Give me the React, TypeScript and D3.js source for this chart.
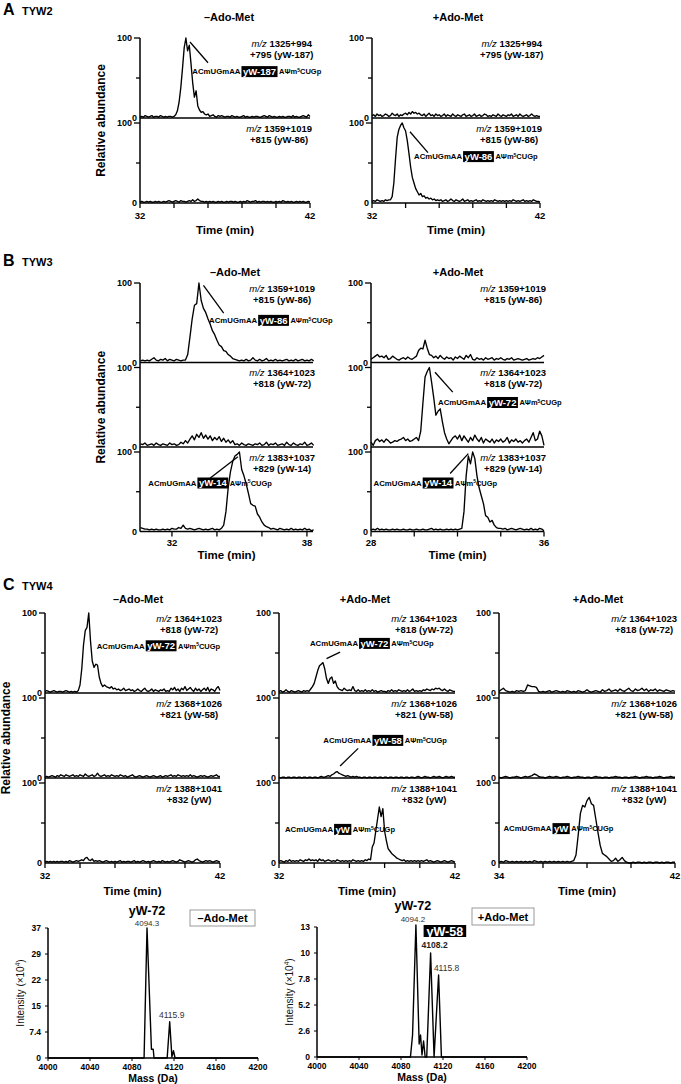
import React, { useEffect, useRef } from "react";
import * as d3 from "d3";

// ================= DATA =================
const STEP = 0.1; // min between samples of every chromatogram

// ---- Panel A (TYW2), 32–42 min ----
const tyw2MinusUpper = [1,2,1,3,2,1,2,3,1,2,2,1,3,2,1,2,1,2,2,1,
  2,4,9,20,38,62,88,100,84,91,68,44,26,34,15,10,7,8,5,4,5,
  2,3,4,2,1,3,2,3,2,1,2,2,1,3,2,1,2,1,1,2,3,1,2,1,1,2,1,2,2,1,1,2,3,2,1,3,2,1,2,1,1,2,1,2,1,1,2,2,1,3,1,2,1,1,2,3,2,1,4,2];
const tyw2MinusLower = [1,2,1,1,2,1,2,1,1,2,1,2,1,1,2,1,2,3,2,1,
  2,3,2,1,3,2,2,1,2,3,2,4,2,3,5,3,2,2,1,2,
  1,2,1,2,1,1,2,1,2,1,1,2,1,2,2,1,2,1,1,2,
  1,2,1,3,2,1,2,2,3,1,2,1,2,2,1,2,1,2,1,1,
  2,1,2,1,3,2,1,2,1,2,1,1,2,1,2,1,2,1,1,2,1];
const tyw2PlusUpper = [3,4,2,5,3,4,2,3,5,4,2,3,6,4,3,5,2,4,3,5,
  6,4,7,5,8,6,7,5,6,4,3,5,2,4,6,3,4,2,5,3,
  4,2,3,5,2,4,3,2,5,3,2,4,3,2,4,5,2,3,4,2,
  3,5,2,3,4,2,3,5,4,2,3,2,4,3,2,5,3,2,4,3,
  2,4,3,5,2,3,4,2,5,3,2,3,4,2,3,5,3,2,3,2,2];
const tyw2PlusLower = [2,3,2,4,3,2,3,2,4,3,
  4,4,8,25,55,82,92,97,100,94,
  90,78,62,45,32,25,18,14,10,12,
  8,9,6,7,5,6,4,5,3,4,
  3,4,2,3,4,2,3,5,3,2,4,3,2,3,5,2,3,4,2,3,
  2,3,4,2,3,2,4,3,2,3,2,3,2,4,3,2,3,2,3,2,
  3,2,3,2,4,3,2,3,2,3,4,2,3,2,3,2,4,3,2,2,1];

// ---- Panel B (TYW3): –Ado-Met from 30.6 min, +Ado-Met 28–36 min ----
const tyw3MinusUpper = [2,3,2,3,2,4,6,3,2,4, 3,5,2,4,3,2,4,3,2,3,
  3,10,32,55,72,74,100,78,68,63, 55,48,40,35,28,22,20,15,14,10,
  8,5,4,3,2,3,2,4,2,3, 6,3,2,4,2,3,5,2,3,2, 4,2,3,2,3,4,2,3,2,4, 2,3,4,2,3,2,4,2];
const tyw3MinusMiddle = [4,3,5,2,3,4,2,5,3,2, 4,3,2,5,3,4,2,3,6,4,
  8,5,10,14,9,16,12,18,11,15, 10,14,8,12,9,13,7,11,6,9,
  5,8,3,4,2,5,3,2,4,3, 2,4,3,5,2,3,6,2,4,3, 5,2,3,4,2,6,3,2,5,3, 2,4,3,6,2,3,5,2];
const tyw3MinusLower = [5,4,3,3,2,3,2,3,2,2, 3,2,3,2,4,3,3,5,4,8,
  4,3,4,3,2,3,4,3,2,3, 2,3,4,2,3,2,4,8,25,55,
  75,88,95,97,100,78,70,60,48,35, 33,32,22,18,12,8,6,5,3,4,
  3,2,4,3,2,3,2,4,2,3, 2,3,2,4,2,3,1,2];
const tyw3PlusUpper = [4,6,8,10,7,8,6,9,4,5, 8,6,4,3,5,6,4,7,5,4,
  6,8,15,18,17,28,18,10,9,6, 8,5,9,6,4,7,5,6,3,7,
  5,8,6,4,9,6,10,4,3,6, 4,5,3,6,4,5,6,3,5,4, 6,4,3,5,4,6,3,4,5,4,
  3,4,5,3,4,5,4,6,5,7,9];
const tyw3PlusMiddle = [6,2,8,10,7,9,6,10,8,5, 6,8,7,9,10,12,8,10,7,8,
  10,12,8,20,55,88,95,100,82,62, 40,45,48,32,18,10,4,8,12,14,
  10,15,8,14,10,6,12,8,15,10, 7,12,5,10,8,6,10,5,9,7, 10,6,8,12,5,9,7,10,6,8,
  5,8,10,6,12,18,8,10,20,14,2];
const tyw3PlusLower = [2,3,2,4,2,3,2,3,2,2, 3,2,3,2,2,3,2,2,3,2,
  2,3,2,2,3,2,2,3,4,2, 3,2,3,2,2,3,2,3,2,3,
  2,3,4,25,70,95,85,100,92,70, 55,45,35,20,18,12,14,8,5,4,
  4,3,4,2,3,4,3,2,3,4, 3,2,3,2,4,2,3,2,4,3,1];

// ---- Panel C (TYW4): 32–42 min (first two columns), 34–42 min (third) ----
const tyw4MinusUpper = [2,3,2,1,2,3,2,1,2,2, 1,2,3,2,1,2,1,2,1,3,
  10,30,60,78,82,100,65,40,32,36, 35,20,12,8,10,8,7,6,8,5,
  6,4,5,3,4,6,3,4,5,3, 4,2,3,5,3,2,4,6,3,2, 3,5,2,4,3,2,4,3,5,2,
  3,2,6,4,7,3,5,2,6,4, 8,3,5,7,4,2,6,3,5,2, 4,6,3,7,2,5,4,2,6,8,3];
const tyw4MinusMiddle = [1,2,1,2,3,2,1,3,2,4, 3,2,4,3,2,3,4,2,3,2,
  4,3,2,5,3,2,3,4,2,3, 6,3,2,3,4,2,3,2,4,3, 2,3,2,4,3,2,3,1,2,3,
  4,2,1,2,3,2,1,2,3,2, 1,2,3,2,1,2,3,1,2,3, 2,3,4,2,3,2,4,3,2,3,
  2,3,2,4,2,3,2,1,2,3, 2,3,2,1,2,3,2,3,4,2,2];
const tyw4MinusLower = [1,2,1,2,1,2,1,2,1,2, 2,1,2,1,3,2,1,2,3,2,
  3,4,3,6,7,4,3,5,2,3, 2,3,2,1,2,3,2,1,2,1, 2,1,2,3,1,2,1,2,2,1,
  2,3,1,2,1,2,3,2,1,2, 1,2,3,2,1,2,1,3,2,1, 2,1,2,3,2,1,2,4,3,2,
  1,2,3,2,1,2,4,5,3,2, 1,2,3,2,3,2,1,2,3,2,1];
const tyw4PlusUpper = [2,3,1,2,4,2,1,3,2,1, 2,3,2,1,3,2,3,2,5,8,
  12,20,28,34,36,38,30,18,12,18, 20,12,15,8,5,4,3,6,4,3,
  4,3,8,3,2,4,2,3,2,4, 2,3,2,4,2,3,1,2,3,2, 2,1,3,2,4,2,3,2,4,3,
  2,3,2,4,2,3,5,2,3,2, 3,2,4,3,5,4,3,5,4,6, 5,6,4,3,5,3,2,4,3,2,2];
const tyw4PlusMiddle = [1,0,1,1,0,1,1,0,1,1, 0,1,1,0,1,1,0,1,1,0,
  1,1,0,1,2,1,1,2,3,2, 4,5,7,8,6,5,4,3,2,3, 2,1,2,1,2,1,1,0,1,1,
  0,1,1,0,1,1,0,1,1,0, 1,1,0,1,1,0,1,1,0,1, 1,0,1,1,0,1,1,0,1,2,
  1,0,1,2,1,1,0,1,2,1, 1,2,1,0,1,2,1,1,2,1,1];
const tyw4PlusLower = [2,3,2,1,3,2,4,2,3,2, 3,2,4,3,2,4,3,5,3,4,
  3,4,2,5,3,4,2,3,4,3, 2,3,2,4,3,2,3,2,3,2, 3,2,4,3,2,3,2,3,2,4,
  3,5,4,20,25,40,55,70,58,68, 40,28,18,15,12,10,8,6,5,4,
  3,4,2,3,2,3,2,3,2,3, 2,3,2,3,4,2,3,2,1,2, 3,2,1,2,3,2,1,2,3,2,1];
const tyw4Plus2Upper = [2,4,6,3,2,1,2,1,3,2, 3,2,3,10,9,8,8,7,2,1,
  2,1,2,3,1,2,3,2,1,2, 1,3,2,1,2,1,3,2,1,2, 4,2,1,2,3,2,1,4,2,3,
  5,2,3,4,2,5,3,2,4,6, 3,2,5,3,4,6,3,5,2,4, 3,5,2,4,3,2,4,3,2,3,2];
const tyw4Plus2Middle = [1,0,1,2,1,0,1,1,2,1, 0,1,2,1,2,3,5,4,2,1,
  1,0,1,2,1,1,2,1,0,1, 1,2,1,0,1,1,2,1,1,0, 1,1,0,1,2,1,1,0,1,1,
  0,1,1,2,1,1,0,1,1,0, 1,1,2,1,0,1,1,2,1,1, 0,1,1,2,1,0,1,1,2,1,1];
const tyw4Plus2Lower = [1,2,1,3,2,1,2,1,2,1, 2,1,2,1,2,1,3,2,1,2,
  1,2,1,2,1,2,1,2,1,2, 1,2,1,2,3,10,35,62,72,70,
  78,82,74,72,55,38,22,12,10,8, 5,2,3,6,2,4,7,3,1,0,
  0,1,0,1,1,0,1,0,1,1, 0,1,1,0,1,0,1,1,0,1,1];

// ---- Mass spectra (×10^4) ----
const massMinus = [4000, 4091.5, 4094.3, 4098.5, 4100.2, 4101, 4113.5, 4115.9, 4118, 4119.5, 4121, 4200];
const intensityMinus = [0, 0, 37, 2.5, 2.5, 0, 0, 10.3, 0.3, 2.1, 0, 0];
const massPlus = [4000, 4089, 4091, 4094.2, 4097.3, 4098.6, 4100, 4101.5, 4103, 4104.5, 4108.2, 4111.5, 4115.8, 4118.5, 4200];
const intensityPlus = [0, 0, 2.2, 13.2, 1.3, 2.2, 0.2, 1.6, 0, 0, 10.4, 0, 8.2, 0, 0];
const massTicks = [4000, 4040, 4080, 4120, 4160, 4200];
const minusYTicks = [0, 7.4, 14.8, 22.2, 29.6, 37];
const minusYTickLabels = ["0", "7.4", "15", "22", "29", "37"];
const plusYTicks = [0, 2.6, 5.2, 7.8, 10.4, 13];
const plusYTickLabels = ["0", "2.6", "5.2", "7.8", "10", "13"];

// ---- Text ----
const seqLeft = "ACmUGmAA";
const seqRight1 = "AΨm";
const seqRightSup = "5";
const seqRight2 = "CUGp";
const minusTitle = "–Ado-Met";
const plusTitle = "+Ado-Met";

// ================= LAYOUT =================
const FONT = "'Liberation Sans', Arial, Helvetica, sans-serif";

type Anno = { from?: [number, number]; to?: [number, number]; at: [number, number]; tag: string };
type Sub = { data: number[]; start: number; mz: [string, string]; anno?: Anno };
type Plot = { x0: number; x1: number; domain: [number, number]; ticks: number[]; labels: number[]; title: string; titleX: number; subs: Sub[]; yLabel?: boolean };
type Panel = { letter: string; name: string; letterY: number; top: number; h: number; gap: number; titleY: number; tickDy: number; timeDy: number; plots: Plot[] };

const mz187: [string, string] = ["1325+994", "+795 (yW-187)"];
const mz86: [string, string] = ["1359+1019", "+815 (yW-86)"];
const mz72: [string, string] = ["1364+1023", "+818 (yW-72)"];
const mz14: [string, string] = ["1383+1037", "+829 (yW-14)"];
const mz58: [string, string] = ["1368+1026", "+821 (yW-58)"];
const mzW: [string, string] = ["1388+1041", "+832 (yW)"];

const panels: Panel[] = [
  {
    letter: "A", name: "TYW2", letterY: 15, top: 38, h: 80, gap: 5, titleY: 21, tickDy: 13, timeDy: 27,
    plots: [
      { x0: 140, x1: 310, domain: [32, 42], ticks: [32, 34, 36, 38, 40, 42], labels: [32, 42], title: minusTitle, titleX: 229, yLabel: true,
        subs: [
          { data: tyw2MinusUpper, start: 32, mz: mz187, anno: { from: [34.94, 95], to: [36.0, 69], at: [35.08, 58], tag: "yW-187" } },
          { data: tyw2MinusLower, start: 32, mz: mz86 },
        ] },
      { x0: 372, x1: 540, domain: [32, 42], ticks: [32, 34, 36, 38, 40, 42], labels: [32, 42], title: plusTitle, titleX: 458,
        subs: [
          { data: tyw2PlusUpper, start: 32, mz: mz187 },
          { data: tyw2PlusLower, start: 32, mz: mz86, anno: { from: [34.26, 89], to: [35.33, 63], at: [34.5, 58], tag: "yW-86" } },
        ] },
    ],
  },
  {
    letter: "B", name: "TYW3", letterY: 266, top: 283, h: 79.5, gap: 5, titleY: 276, tickDy: 11.5, timeDy: 23.5,
    plots: [
      { x0: 140, x1: 313, domain: [30.58, 38.27], ticks: [32, 34, 36, 38], labels: [32, 38], title: minusTitle, titleX: 235, yLabel: true,
        subs: [
          { data: tyw3MinusUpper, start: 30.6, mz: mz86, anno: { from: [33.4, 97], to: [34.3, 62], at: [33.65, 53], tag: "yW-86" } },
          { data: tyw3MinusMiddle, start: 30.6, mz: mz72 },
          { data: tyw3MinusLower, start: 30.6, mz: mz14, anno: { from: [34.93, 94], to: [33.69, 67], at: [30.95, 61], tag: "yW-14" } },
        ] },
      { x0: 371, x1: 544, domain: [28, 36], ticks: [28, 30, 32, 34, 36], labels: [28, 36], title: plusTitle, titleX: 458,
        subs: [
          { data: tyw3PlusUpper, start: 28, mz: mz86 },
          { data: tyw3PlusMiddle, start: 28, mz: mz72, anno: { from: [30.96, 94], to: [31.78, 69], at: [31.1, 56], tag: "yW-72" } },
          { data: tyw3PlusLower, start: 28, mz: mz14, anno: { from: [32.5, 98], to: [31.66, 73], at: [28.12, 61], tag: "yW-14" } },
        ] },
    ],
  },
  {
    letter: "C", name: "TYW4", letterY: 590, top: 613, h: 80, gap: 5, titleY: 603, tickDy: 13, timeDy: 28,
    plots: [
      { x0: 45, x1: 220, domain: [32, 42], ticks: [32, 34, 36, 38, 40, 42], labels: [32, 42], title: minusTitle, titleX: 138, yLabel: true,
        subs: [
          { data: tyw4MinusUpper, start: 32, mz: mz72, anno: { at: [34.95, 59], tag: "yW-72" } },
          { data: tyw4MinusMiddle, start: 32, mz: mz58 },
          { data: tyw4MinusLower, start: 32, mz: mzW },
        ] },
      { x0: 279, x1: 455, domain: [32, 42], ticks: [32, 34, 36, 38, 40, 42], labels: [32, 42], title: plusTitle, titleX: 365,
        subs: [
          { data: tyw4PlusUpper, start: 32, mz: mz72, anno: { from: [34.7, 43], to: [35.47, 51], at: [33.76, 62], tag: "yW-72" } },
          { data: tyw4PlusMiddle, start: 32, mz: mz58, anno: { from: [35.47, 15], to: [36.5, 37], at: [34.52, 47], tag: "yW-58" } },
          { data: tyw4PlusLower, start: 32, mz: mzW, anno: { at: [32.34, 42], tag: "yW" } },
        ] },
      { x0: 499, x1: 675, domain: [34, 42], ticks: [34, 36, 38, 40, 42], labels: [34, 42], title: plusTitle, titleX: 598,
        subs: [
          { data: tyw4Plus2Upper, start: 34, mz: mz72 },
          { data: tyw4Plus2Middle, start: 34, mz: mz58 },
          { data: tyw4Plus2Lower, start: 34, mz: mzW, anno: { at: [34.2, 43], tag: "yW" } },
        ] },
    ],
  },
];

type Spec = { x0: number; x1: number; top: number; bottom: number; ymax: number; yTicks: number[]; yLabels: string[]; mass: number[]; inten: number[]; legend: string; legendBox: [number, number, number, number] };

const spectra: Spec[] = [
  { x0: 48, x1: 258, top: 928, bottom: 1058, ymax: 37, yTicks: minusYTicks, yLabels: minusYTickLabels, mass: massMinus, inten: intensityMinus, legend: minusTitle, legendBox: [190, 910, 65, 16] },
  { x0: 317, x1: 527, top: 927, bottom: 1057, ymax: 13, yTicks: plusYTicks, yLabels: plusYTickLabels, mass: massPlus, inten: intensityPlus, legend: plusTitle, legendBox: [472, 908, 62, 17] },
];

// ================= DRAWING =================
function txt(g: any, x: number, y: number, s: string, size: number, opts: any = {}) {
  return g.append("text").attr("x", x).attr("y", y).attr("font-family", FONT).attr("font-size", size)
    .attr("font-weight", opts.weight ?? "bold").attr("text-anchor", opts.anchor ?? "start")
    .attr("fill", opts.fill ?? "#000").text(s);
}

function drawAnno(g: any, x: any, y: any, a: Anno) {
  if (a.from && a.to) {
    g.append("line").attr("x1", x(a.from[0])).attr("y1", y(a.from[1])).attr("x2", x(a.to[0])).attr("y2", y(a.to[1]))
      .attr("stroke", "#000").attr("stroke-width", 1.3);
  }
  const cx = x(a.at[0]);
  const cy = y(a.at[1]);
  const t1 = txt(g, cx, cy + 2.8, seqLeft, 7.8);
  const w1 = (t1.node() as SVGTextElement).getComputedTextLength();
  const bx = cx + w1 + 1;
  const rect = g.append("rect").attr("y", cy - 5.5).attr("height", 11).attr("fill", "#000");
  const t2 = txt(g, bx + 1.5, cy + 3.4, a.tag, 9.5, { fill: "#fff" });
  const w2 = (t2.node() as SVGTextElement).getComputedTextLength();
  rect.attr("x", bx).attr("width", w2 + 3);
  const t3 = txt(g, bx + w2 + 4.5, cy + 2.8, seqRight1, 7.5);
  t3.append("tspan").attr("font-size", 5).attr("dy", -2.5).text(seqRightSup);
  t3.append("tspan").attr("font-size", 7.5).attr("dy", 2.5).text(seqRight2);
}

function drawPlot(svg: any, pn: Panel, p: Plot) {
  const g = svg.append("g");
  const x = d3.scaleLinear().domain(p.domain).range([p.x0, p.x1]);
  const n = p.subs.length;
  const bottom = pn.top + n * pn.h + (n - 1) * pn.gap;
  p.subs.forEach((s, i) => {
    const y0 = pn.top + i * (pn.h + pn.gap);
    const y = d3.scaleLinear().domain([0, 100]).range([y0 + pn.h, y0]);
    const pts: [number, number][] = s.data.map((v, k) => [s.start + k * STEP, v]);
    const line = d3.line<[number, number]>().x((d) => x(d[0])).y((d) => y(d[1]));
    g.append("path").attr("d", line(pts)).attr("fill", "none").attr("stroke", "#000").attr("stroke-width", 1.35).attr("stroke-linejoin", "round");
    g.append("line").attr("x1", p.x0).attr("x2", p.x1).attr("y1", y(0)).attr("y2", y(0)).attr("stroke", "#000").attr("stroke-width", 1.5);
    g.append("line").attr("x1", p.x0 - 6).attr("x2", p.x0).attr("y1", y(100)).attr("y2", y(100)).attr("stroke", "#000").attr("stroke-width", 1.3);
    g.append("line").attr("x1", p.x0 - 4).attr("x2", p.x0).attr("y1", y(50)).attr("y2", y(50)).attr("stroke", "#000").attr("stroke-width", 1.3);
    txt(g, p.x0 - 8, y(100) + 3.2, "100", 9, { anchor: "end" });
    txt(g, p.x0 - 3, y(0) + 3.2, "0", 9, { anchor: "end" });
    const l1 = g.append("text").attr("y", y0 + 8.5).attr("font-family", FONT).attr("font-size", 9.5).attr("font-weight", "bold").attr("text-anchor", "middle");
    l1.append("tspan").attr("font-style", "italic").attr("font-weight", "normal").text("m/z ");
    l1.append("tspan").text(s.mz[0]);
    const w = (l1.node() as SVGTextElement).getComputedTextLength();
    const cxm = p.x1 + 2 - w / 2;
    l1.attr("x", cxm);
    txt(g, cxm, y0 + 19.5, s.mz[1], 9.5, { anchor: "middle" });
    if (s.anno) drawAnno(g, x, y, s.anno);
  });
  g.append("line").attr("x1", p.x0).attr("x2", p.x0).attr("y1", pn.top).attr("y2", bottom).attr("stroke", "#000").attr("stroke-width", 1.5);
  p.ticks.forEach((t) => {
    g.append("line").attr("x1", x(t)).attr("x2", x(t)).attr("y1", bottom).attr("y2", bottom + 5).attr("stroke", "#000").attr("stroke-width", 1.3);
  });
  p.labels.forEach((t) => txt(g, x(t), bottom + pn.tickDy + 3.3, String(t), 9.5, { anchor: "middle" }));
  txt(g, (p.x0 + p.x1) / 2, bottom + pn.timeDy + 4, "Time (min)", 11.5, { anchor: "middle" });
  txt(g, p.titleX, pn.titleY, p.title, 11, { anchor: "middle" });
  if (p.yLabel) {
    const cy = (pn.top + bottom) / 2;
    g.append("text").attr("transform", `translate(${p.x0 - 35},${cy}) rotate(-90)`).attr("text-anchor", "middle")
      .attr("font-family", FONT).attr("font-size", 12).attr("font-weight", "bold").text("Relative abundance");
  }
}

function drawSpectrum(svg: any, s: Spec, idx: number) {
  const g = svg.append("g");
  const x = d3.scaleLinear().domain([4000, 4200]).range([s.x0, s.x1]);
  const y = d3.scaleLinear().domain([0, s.ymax]).range([s.bottom, s.top]);
  const pts: [number, number][] = s.mass.map((m, i) => [m, s.inten[i]]);
  const line = d3.line<[number, number]>().x((d) => x(d[0])).y((d) => y(d[1]));
  g.append("path").attr("d", line(pts)).attr("fill", "none").attr("stroke", "#000").attr("stroke-width", 1.4).attr("stroke-linejoin", "round");
  g.append("line").attr("x1", s.x0).attr("x2", s.x0).attr("y1", s.top).attr("y2", s.bottom).attr("stroke", "#000").attr("stroke-width", 1.5);
  g.append("line").attr("x1", s.x0).attr("x2", s.x1).attr("y1", s.bottom).attr("y2", s.bottom).attr("stroke", "#000").attr("stroke-width", 1.5);
  s.yTicks.forEach((t, i) => {
    g.append("line").attr("x1", s.x0 - 3).attr("x2", s.x0).attr("y1", y(t)).attr("y2", y(t)).attr("stroke", "#000").attr("stroke-width", 1);
    txt(g, s.x0 - 7, y(t) + 3, s.yLabels[i], 8.5, { anchor: "end" });
  });
  massTicks.forEach((t) => {
    g.append("line").attr("x1", x(t)).attr("x2", x(t)).attr("y1", s.bottom).attr("y2", s.bottom + 3).attr("stroke", "#000").attr("stroke-width", 1);
    txt(g, x(t), s.bottom + 12, String(t), 8.5, { anchor: "middle" });
  });
  txt(g, (s.x0 + s.x1) / 2, s.bottom + 24, "Mass (Da)", 10.5, { anchor: "middle" });
  const yl = g.append("text").attr("transform", `translate(${s.x0 - 24},${(s.top + s.bottom) / 2}) rotate(-90)`).attr("text-anchor", "middle")
    .attr("font-family", FONT).attr("font-size", 10).attr("fill", "#111").text("Intensity (×10");
  yl.append("tspan").attr("font-size", 6.5).attr("dy", -4).text("4");
  yl.append("tspan").attr("dy", 4).text(")");
  const [bx, by, bw, bh] = s.legendBox;
  g.append("rect").attr("x", bx).attr("y", by).attr("width", bw).attr("height", bh).attr("fill", "#fff").attr("stroke", "#999").attr("stroke-width", 1);
  txt(g, bx + bw / 2, by + bh / 2 + 4, s.legend, 11, { anchor: "middle" });
  if (idx === 0) {
    txt(g, x(4094.3), y(37) - 13, "yW-72", 12.5, { anchor: "middle" });
    txt(g, x(4094.3), y(37) - 2.5, "4094.3", 8, { anchor: "middle", weight: "normal", fill: "#333" });
    txt(g, x(4115.9) + 2, y(10.3) - 4, "4115.9", 8.5, { anchor: "middle", weight: "normal", fill: "#333" });
  } else {
    txt(g, x(4094.2) - 3, y(13.2) - 15, "yW-72", 12.5, { anchor: "middle" });
    txt(g, x(4094.2) - 3, y(13.2) - 3, "4094.2", 8, { anchor: "middle", weight: "normal", fill: "#333" });
    const t = txt(g, 0, 0, "yW-58", 12.5, { anchor: "start", fill: "#fff" });
    const tw = (t.node() as SVGTextElement).getComputedTextLength();
    const bx2 = x(4108.2) - 7;
    const by2 = y(10.4) - 28;
    g.insert("rect", () => t.node()).attr("x", bx2).attr("y", by2).attr("width", tw + 6).attr("height", 12).attr("fill", "#000");
    t.attr("x", bx2 + 3).attr("y", by2 + 10.5);
    txt(g, x(4108.2) + 4, y(10.4) - 5, "4108.2", 8.5, { anchor: "middle", fill: "#222" });
    txt(g, x(4115.8) + 8, y(8.2) - 4, "4115.8", 8.5, { anchor: "middle", weight: "normal", fill: "#333" });
  }
}

export default function App() {
  const ref = useRef<SVGSVGElement>(null);
  useEffect(() => {
    const svg = d3.select(ref.current);
    svg.selectAll("*").remove();
    svg.append("rect").attr("width", 681).attr("height", 1084).attr("fill", "#fff");
    panels.forEach((pn) => {
      txt(svg, 3, pn.letterY, pn.letter, 16);
      txt(svg, 22, pn.letterY, pn.name, 11);
      pn.plots.forEach((p) => drawPlot(svg, pn, p));
    });
    spectra.forEach((s, i) => drawSpectrum(svg, s, i));
  }, []);
  return (
    <svg ref={ref} width={681} height={1084} style={{ position: "absolute", left: 0, top: 0, display: "block" }} />
  );
}
